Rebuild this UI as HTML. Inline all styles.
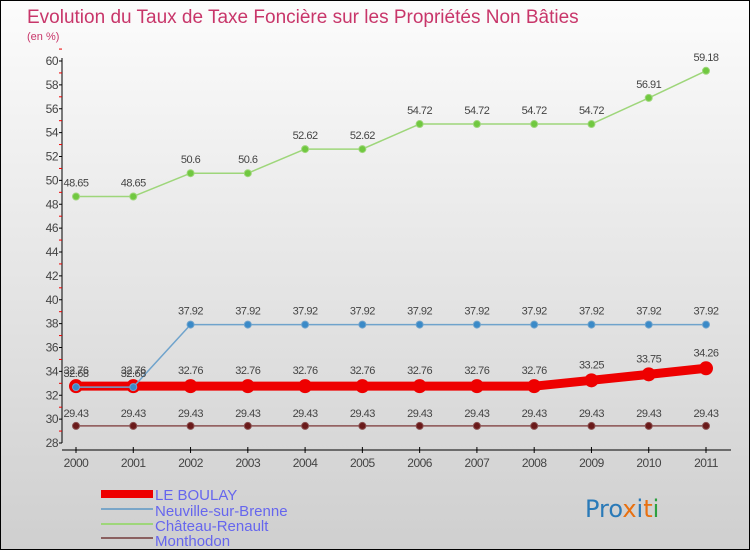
<!DOCTYPE html>
<html><head><meta charset="utf-8"><style>
html,body{margin:0;padding:0}
body{width:750px;height:550px;overflow:hidden;font-family:"Liberation Sans",sans-serif}
#wrap{position:relative;width:748px;height:548px;border:1px solid #000;background:linear-gradient(#fcfcfc,#cfcfcf)}
</style></head><body>
<div id="wrap">
<svg id="chart" width="748" height="548">
<text x="26" y="22" font-size="19" fill="#c8366a">Evolution du Taux de Taxe Foncière sur les Propriétés Non Bâties</text>
<text x="26" y="39" font-size="11" fill="#c8366a">(en %)</text>
<g id="axes"></g><g id="series"></g>
<g>
<rect x="100" y="489" width="52" height="8" fill="#ee0000"/>
<text x="154" y="499" font-size="15" fill="#6666ee">LE BOULAY</text>
<line x1="100" y1="508" x2="152" y2="508" stroke="#7aa6c8" stroke-width="2"/>
<text x="154" y="515" font-size="15" fill="#6666ee">Neuville-sur-Brenne</text>
<line x1="100" y1="523" x2="152" y2="523" stroke="#9ed67a" stroke-width="2"/>
<text x="154" y="530" font-size="15" fill="#6666ee">Château-Renault</text>
<line x1="100" y1="537" x2="152" y2="537" stroke="#8a6060" stroke-width="2"/>
<text x="154" y="545" font-size="15" fill="#6666ee">Monthodon</text>
</g>
<text x="584" y="516" font-size="24" font-family="DejaVu Sans"><tspan fill="#2a7ab8">Pro</tspan><tspan fill="#e87010">x</tspan><tspan fill="#2a7ab8">i</tspan><tspan fill="#e87010">t</tspan><tspan fill="#2ca040">i</tspan></text>
</svg></div>
<script>
const years=["2000","2001","2002","2003","2004","2005","2006","2007","2008","2009","2010","2011"];
const leBoulay=[32.76,32.76,32.76,32.76,32.76,32.76,32.76,32.76,32.76,33.25,33.75,34.26];
const neuville=[32.68,32.68,37.92,37.92,37.92,37.92,37.92,37.92,37.92,37.92,37.92,37.92];
const chateau=[48.65,48.65,50.6,50.6,52.62,52.62,54.72,54.72,54.72,54.72,56.91,59.18];
const monthodon=[29.43,29.43,29.43,29.43,29.43,29.43,29.43,29.43,29.43,29.43,29.43,29.43];
const yTicks=[28,30,32,34,36,38,40,42,44,46,48,50,52,54,56,58,60];
const NS="http://www.w3.org/2000/svg";
const X=i=>75+i*(630/11);
const Y=v=>442-(v-28)*(382/32);
function mk(t,a,p){const e=document.createElementNS(NS,t);for(const k in a)e.setAttribute(k,a[k]);p.appendChild(e);return e;}
const ax=document.getElementById('axes');
const yl=mk('line',{x1:61,y1:57,x2:61,y2:442,stroke:'#000','stroke-width':1},ax);


const xl=mk('line',{x1:61,y1:449,x2:730,y2:449,stroke:'#000','stroke-width':1},ax);


yTicks.forEach(v=>{
 mk('line',{x1:58,y1:Y(v),x2:61,y2:Y(v),stroke:'#000'},ax);
 mk('line',{x1:58,y1:Y(v+1),x2:61,y2:Y(v+1),stroke:'#e00'},ax);
 const t=mk('text',{x:57,y:Y(v)+4,'font-size':12,fill:'#444','text-anchor':'end','letter-spacing':'-0.5'},ax);
 t.textContent=v;
 
 
});
years.forEach((y,i)=>{
 mk('line',{x1:X(i),y1:446,x2:X(i),y2:452,stroke:'#000'},ax);
 const t=mk('text',{x:X(i),y:466,'font-size':12,fill:'#444','text-anchor':'middle','letter-spacing':'-0.5'},ax);
 t.textContent=y;
 
 
});
const sg=document.getElementById('series');
function draw(vals,color,w,r,dot,name,labelDy){
 const g=mk('g',{},sg);
 
 
 mk('polyline',{points:vals.map((v,i)=>X(i)+','+Y(v)).join(' '),fill:'none',stroke:color,'stroke-width':w,'stroke-linejoin':'round'},g);
 vals.forEach((v,i)=>{
  const c=mk('circle',{cx:X(i),cy:Y(v),r:r,fill:dot,stroke:color,'stroke-width':1},g);
  
  
  const t=mk('text',{x:X(i),y:Y(v)+labelDy,'font-size':11,fill:'#444','text-anchor':'middle','letter-spacing':'-0.5'},g);
  t.textContent=v;
  
  
 });
}
draw(monthodon,'#8a5050',1.5,3.5,'#6a1a1a','series-monthodon',-9);
draw(leBoulay,'#ee0000',9,6.5,'#ee0000','series-le-boulay',-12);
draw(neuville,'#6fa3cc',1.5,3.5,'#3a8ac8','series-neuville',-10);
draw(chateau,'#9ed67a',1.5,3.5,'#70c840','series-chateau-renault',-10);
</script>
</body></html>
